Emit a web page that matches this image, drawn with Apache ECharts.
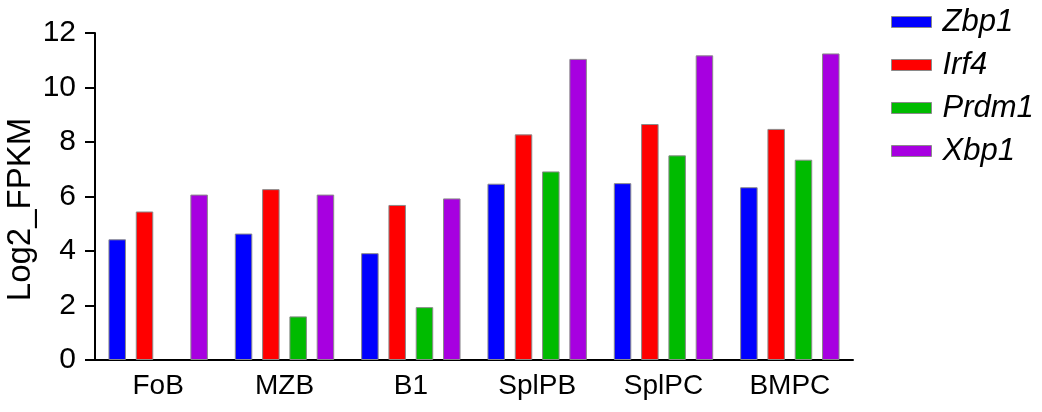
<!DOCTYPE html>
<html>
<head>
<meta charset="utf-8">
<script src="https://cdn.jsdelivr.net/npm/echarts@6/dist/echarts.min.js"></script>
<style>
  html, body { margin: 0; padding: 0; background: #fff; }
  #block1 { width: 1042px; height: 412px; }
</style>
</head>
<body>
<div id="block1"></div>
<script>
var categories = ['FoB', 'MZB', 'B1', 'SplPB', 'SplPC', 'BMPC'];
var genes = ['Zbp1', 'Irf4', 'Prdm1', 'Xbp1'];
var zbp1 = [4.43, 4.64, 3.92, 6.47, 6.49, 6.34];
var irf4 = [5.45, 6.27, 5.69, 8.28, 8.66, 8.48];
var prdm1 = [null, 1.6, 1.94, 6.92, 7.51, 7.35];   // FoB: no bar
var xbp1 = [6.07, 6.07, 5.93, 11.05, 11.18, 11.25];
var yTicks = [0, 2, 4, 6, 8, 10, 12];
var colorList = ['#0000ff', '#ff0000', '#00bb00', '#a700e0'];

var font = 'Liberation Sans, Arial, sans-serif';
var values = [zbp1, irf4, prdm1, xbp1];

var series = genes.map(function (g, i) {
    return {
        name: g,
        type: 'bar',
        barWidth: 17.5,
        barGap: '56%',
        data: values[i],
        itemStyle: {
            color: colorList[i],
            borderColor: '#8a8a8a',
            borderWidth: 1
        }
    };
});

var option1 = {
    animation: false,
    grid: {left: 95, right: 189, top: 33, bottom: 52, containLabel: false, outerBoundsMode: 'none'},
    legend: {
        orient: 'vertical',
        left: 886,
        top: 1,
        itemWidth: 40,
        itemHeight: 11,
        itemGap: 11,
        icon: 'rect',
        data: genes,
        itemStyle: {borderColor: '#8a8a8a', borderWidth: 1},
        textStyle: {
            fontFamily: font,
            fontStyle: 'italic',
            fontSize: 31,
            lineHeight: 32,
            color: '#000',
            padding: [0, 0, 0, 6]
        }
    },
    xAxis: {
        type: 'category',
        data: categories,
        axisLine: {lineStyle: {color: '#000', width: 2}},
        axisTick: {alignWithLabel: true, length: 8, lineStyle: {color: '#000', width: 2}},
        axisLabel: {color: '#000', fontFamily: font, fontSize: 28, margin: 12}
    },
    yAxis: {
        type: 'value',
        min: yTicks[0],
        max: yTicks[yTicks.length - 1],
        interval: 2,
        name: 'Log2_FPKM',
        nameLocation: 'middle',
        nameGap: 58,
        nameMoveOverlap: false,
        nameTextStyle: {color: '#000', fontFamily: font, fontSize: 33, padding: [0, 26, 0, 0]},
        splitLine: {show: false},
        axisLine: {show: true, lineStyle: {color: '#000', width: 2}},
        axisTick: {show: true, length: 10, lineStyle: {color: '#000', width: 2}},
        axisLabel: {color: '#000', fontFamily: font, fontSize: 30, margin: 19}
    },
    series: series
};
var chart1 = echarts.init(document.getElementById('block1'));
chart1.setOption(option1);
</script>
</body>
</html>
